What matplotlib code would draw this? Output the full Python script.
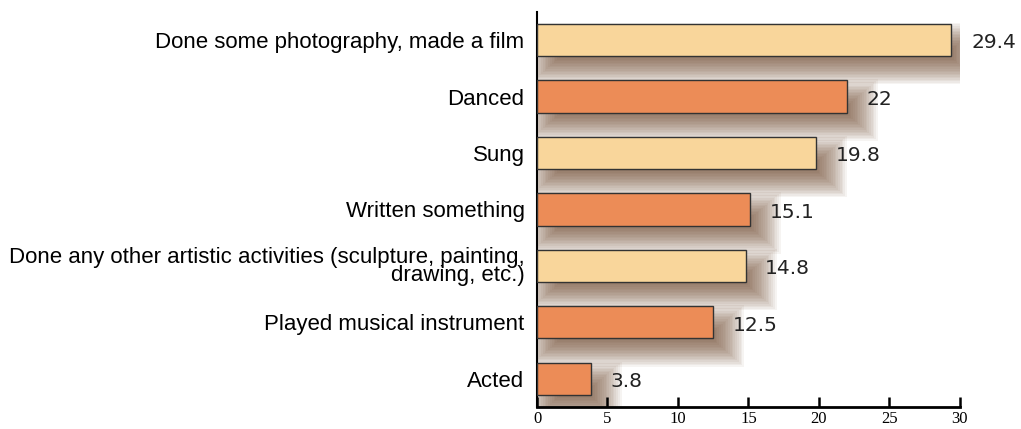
import matplotlib.pyplot as plt

categories = ["Done some photography, made a film", "Danced", "Sung", "Written something",
              "Done any other artistic activities (sculpture, painting,\ndrawing, etc.)",
              "Played musical instrument", "Acted"]
values = [29.4, 22, 19.8, 15.1, 14.8, 12.5, 3.8]
labels = ["29.4", "22", "19.8", "15.1", "14.8", "12.5", "3.8"]
colors = ["#F9D69B", "#EC8C57", "#F9D69B", "#EC8C57", "#F9D69B", "#EC8C57", "#EC8C57"]

fig = plt.figure(figsize=(10.21, 4.29), dpi=100)
ax = fig.add_axes([0.526, 0.0513, 0.414, 0.921])

pos = list(range(len(values)))
h = 0.57

# soft blurred shadows, stacked rectangles from wide to narrow
n = 20
for i, v in enumerate(values):
    for k in range(n):
        f = 1 - 2 * k / (n - 1)
        ex = 1.2 * f
        ey = 0.26 * f
        sh = plt.Rectangle((0.6 - ex, i - h / 2 + 0.24 - ey),
                           v + 0.4 + 2 * ex, h + 2 * ey,
                           facecolor="#6a4428", edgecolor="none", alpha=0.06, zorder=1)
        ax.add_patch(sh)

ax.barh(pos, values, height=h, color=colors, edgecolor="#333333",
        linewidth=1.0, zorder=3)

for i, (v, t) in enumerate(zip(values, labels)):
    ax.text(v + 1.4, i + 0.05, t, va="center", ha="left", fontsize=14.5,
            color="#222222", family="DejaVu Sans", zorder=4)

ax.set_xlim(0, 30)
ax.set_ylim(6.5, -0.5)
ax.set_yticks(pos)
ax.set_yticklabels(categories, family="Liberation Sans", fontsize=16, linespacing=0.8)
ax.tick_params(axis="y", length=0, pad=9)
ax.set_xticks(range(0, 31, 5))
ax.tick_params(axis="x", direction="in", length=7, width=1.8, labelsize=12, pad=3)
for lab in ax.get_xticklabels():
    lab.set_family("Liberation Serif")

ax.spines["top"].set_visible(False)
ax.spines["right"].set_visible(False)
ax.spines["bottom"].set_linewidth(2)
ax.spines["left"].set_linewidth(1.5)
ax.set_facecolor("none")

fig.savefig("out.png", dpi=100)
